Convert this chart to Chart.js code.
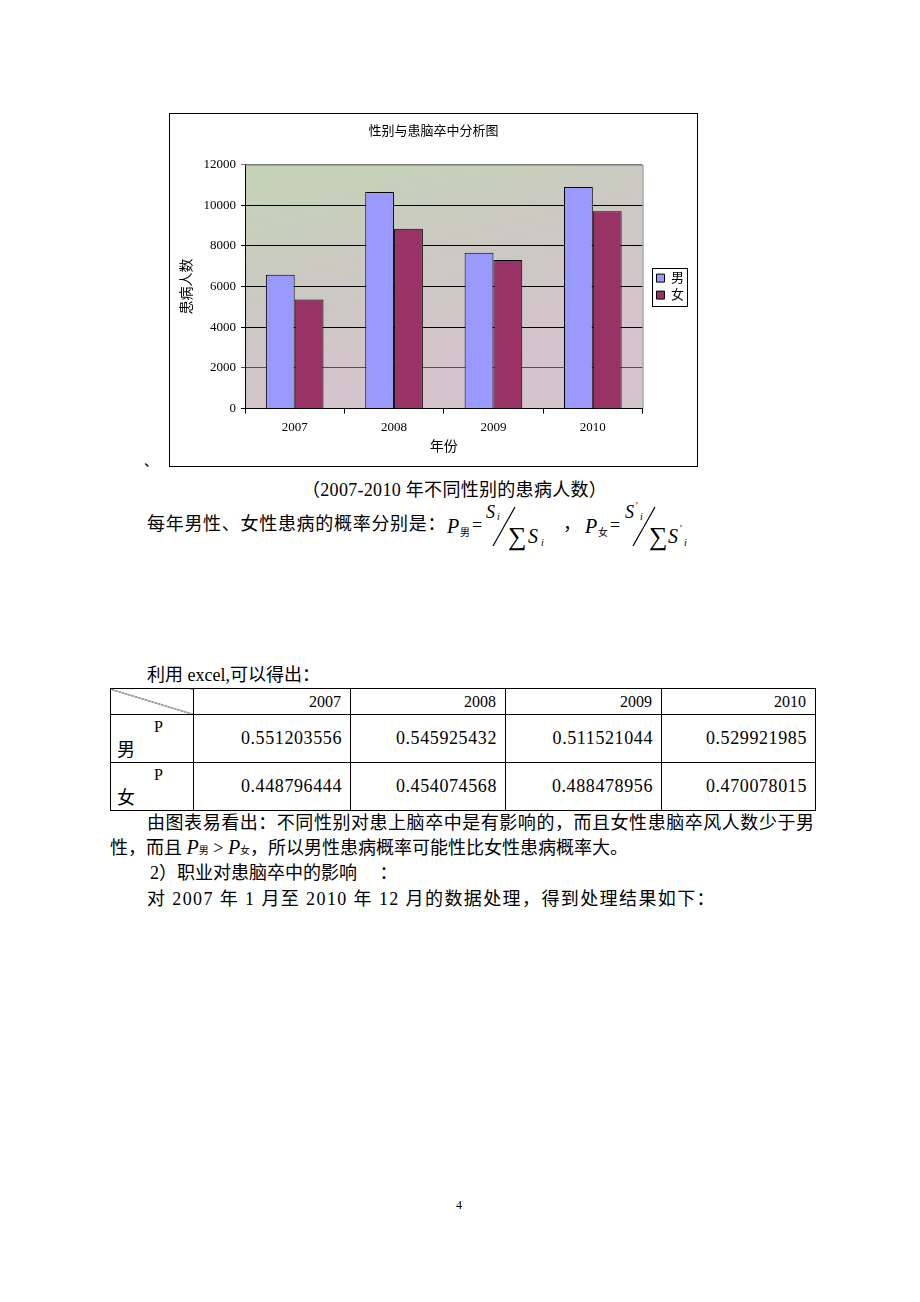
<!DOCTYPE html>
<html>
<head>
<meta charset="utf-8">
<script src="https://cdn.jsdelivr.net/npm/chart.js@4.4.1/dist/chart.umd.min.js"></script>
<style>
  html, body { margin: 0; padding: 0; background: #fff; }
  body {
    width: 920px; height: 1302px; position: relative; overflow: hidden;
    font-family: "Liberation Serif", "Noto Sans CJK SC", serif; color: #000;
  }
  .ln { position: absolute; font-size: 18px; line-height: 26px; white-space: nowrap; }
  .just { white-space: normal; text-align: justify; text-align-last: justify; }
  .m { position: absolute; line-height: 1; white-space: nowrap; }
  .it { font-style: italic; font-family: "Liberation Serif", serif; }
  .sub { font-size: 10px; }
  #chartBox {
    position: absolute; left: 169px; top: 113px; width: 529px; height: 354px;
    border: 1px solid #000; box-sizing: border-box;
  }
  #chartBox canvas { display: block; }
  table {
    position: absolute; left: 110px; top: 688px; border-collapse: collapse;
    table-layout: fixed; width: 705px;
  }
  td { border: 1px solid #000; padding: 0; }
  td.yr { height: 25px; text-align: right; padding-right: 9px; font-size: 16px; }
  td.val { height: 47px; text-align: right; padding-right: 8px; font-size: 18px; letter-spacing: 0.6px; }
  td.diag {
    background: linear-gradient(to top right, transparent calc(50% - 0.6px), #000 50%, transparent calc(50% + 0.6px));
  }
  td.rh { font-size: 18px; }
  td.rh .p { text-align: right; padding-right: 30px; line-height: 22px; font-size: 16px; }
  td.rh .g { text-align: left; padding-left: 6px; line-height: 24px; }
</style>
</head>
<body>

<div id="chartBox"><canvas id="chart" width="527" height="352"></canvas></div>

<div class="ln" style="left:144px; top:449px; font-size:14px;">、</div>
<div class="ln" style="left:302px; top:477px; letter-spacing:0.3px;">（2007-2010 年不同性别的患病人数）</div>

<div class="ln" style="left:147px; top:511px; letter-spacing:0.7px;">每年男性、女性患病的概率分别是：</div>
<!-- formula P_男 = S_i / ΣS_i ，P_女 = S'_i / ΣS'_i -->
<span class="m it" style="left:447px; top:516px; font-size:20px;">P</span>
<span class="m sub" style="left:460px; top:528px;">男</span>
<span class="m" style="left:472px; top:516px; font-size:18px;">=</span>
<span class="m it" style="left:486px; top:503px; font-size:18px;">S</span>
<span class="m it" style="left:497px; top:512px; font-size:10px;">i</span>
<svg style="position:absolute; left:490px; top:505px;" width="30" height="44"><line x1="3" y1="41" x2="25" y2="2" stroke="#000" stroke-width="1.2"/></svg>
<span class="m" style="left:508px; top:524px; font-size:26px;">∑</span>
<span class="m it" style="left:528px; top:526px; font-size:20px;">S</span>
<span class="m it" style="left:541px; top:538px; font-size:10px;">i</span>
<span class="m" style="left:563px; top:515px; font-size:18px;">，</span>
<span class="m it" style="left:585px; top:516px; font-size:20px;">P</span>
<span class="m sub" style="left:598px; top:528px;">女</span>
<span class="m" style="left:610px; top:516px; font-size:18px;">=</span>
<span class="m it" style="left:625px; top:503px; font-size:18px;">S</span>
<span class="m" style="left:636px; top:501px; font-size:10px;">'</span>
<span class="m it" style="left:640px; top:512px; font-size:10px;">i</span>
<svg style="position:absolute; left:630px; top:505px;" width="30" height="44"><line x1="3" y1="41" x2="25" y2="2" stroke="#000" stroke-width="1.2"/></svg>
<span class="m" style="left:649px; top:524px; font-size:26px;">∑</span>
<span class="m it" style="left:668px; top:526px; font-size:20px;">S</span>
<span class="m" style="left:680px; top:524px; font-size:10px;">'</span>
<span class="m it" style="left:684px; top:538px; font-size:10px;">i</span>

<div class="ln" style="left:147px; top:662px;">利用 excel,可以得出：</div>

<table>
  <colgroup><col style="width:83px"><col style="width:157px"><col style="width:155px"><col style="width:156px"><col style="width:154px"></colgroup>
  <tr><td class="diag"></td><td class="yr">2007</td><td class="yr">2008</td><td class="yr">2009</td><td class="yr">2010</td></tr>
  <tr><td class="rh"><div class="p">P</div><div class="g">男</div></td>
    <td class="val">0.551203556</td><td class="val">0.545925432</td><td class="val">0.511521044</td><td class="val">0.529921985</td></tr>
  <tr><td class="rh"><div class="p">P</div><div class="g">女</div></td>
    <td class="val">0.448796444</td><td class="val">0.454074568</td><td class="val">0.488478956</td><td class="val">0.470078015</td></tr>
</table>

<div class="ln just" style="left:147px; top:810px; width:667px;">由图表易看出：不同性别对患上脑卒中是有影响的，而且女性患脑卒风人数少于男</div>
<div class="ln" style="left:110px; top:834px;">性，而且 <span class="it" style="font-size:20px;">P</span><span style="font-size:10px;">男</span> &gt; <span class="it" style="font-size:20px;">P</span><span style="font-size:10px;">女</span>，所以男性患病概率可能性比女性患病概率大。</div>
<div class="ln" style="left:150px; top:860px;">2）职业对患脑卒中的影响　 ：</div>
<div class="ln" style="left:147px; top:886px; letter-spacing:1.4px;">对 2007 年 1 月至 2010 年 12 月的数据处理，得到处理结果如下：</div>

<div class="ln" style="left:456px; top:1192px; font-size:12px;">4</div>

<script>
const years = ['2007', '2008', '2009', '2010'];
const maleCounts = [6580, 10650, 7660, 10900];
const femaleCounts = [5370, 8850, 7310, 9700];
const yMin = 0;
const yMax = 12000;
const yStep = 2000;

const fontFamily = '"Liberation Serif", "Noto Sans CJK SC", serif';
Chart.defaults.color = '#000';
Chart.defaults.font.family = fontFamily;

// plot area fill, grey frame and the boxed legend
const plotFrame = {
  id: 'plotFrame',
  beforeDraw(chart) {
    const { ctx, chartArea: a } = chart;
    const g = ctx.createLinearGradient(a.left, a.top, a.left + 60, a.bottom);
    g.addColorStop(0, '#c4d4b6');
    g.addColorStop(0.5, '#cbc9c2');
    g.addColorStop(1, '#d4c4cc');
    ctx.save();
    ctx.fillStyle = g;
    ctx.fillRect(a.left, a.top, a.right - a.left, a.bottom - a.top);
    ctx.restore();
  },
  afterDraw(chart) {
    const { ctx, chartArea: a } = chart;
    ctx.save();
    ctx.strokeStyle = '#808080';
    ctx.lineWidth = 1;
    ctx.beginPath();
    ctx.moveTo(a.left, a.top + 0.5);
    ctx.lineTo(a.right + 0.5, a.top + 0.5);
    ctx.lineTo(a.right + 0.5, a.bottom);
    ctx.stroke();

    const boxes = chart.legend.legendHitBoxes;
    if (boxes && boxes.length) {
      const l = Math.min(...boxes.map(b => b.left)) - 4;
      const t = Math.min(...boxes.map(b => b.top)) - 4;
      const r = Math.max(...boxes.map(b => b.left + b.width)) + 3;
      const btm = Math.max(...boxes.map(b => b.top + b.height)) + 4;
      ctx.strokeStyle = '#000';
      ctx.strokeRect(Math.round(l) + 0.5, Math.round(t) + 0.5, Math.round(r - l), Math.round(btm - t));
    }
    ctx.restore();
  }
};

new Chart(document.getElementById('chart'), {
  type: 'bar',
  data: {
    labels: years,
    datasets: [
      { label: '男', data: maleCounts, backgroundColor: '#9999ff', borderColor: '#000', borderWidth: 1 },
      { label: '女', data: femaleCounts, backgroundColor: '#993366', borderColor: '#000', borderWidth: 1 }
    ]
  },
  options: {
    responsive: false,
    animation: false,
    devicePixelRatio: 1,
    categoryPercentage: 0.58,
    barPercentage: 1.0,
    layout: { padding: { left: 3, right: 3, top: 0, bottom: 6 } },
    plugins: {
      tooltip: { enabled: false },
      title: {
        display: true,
        text: '性别与患脑卒中分析图',
        font: { size: 13, weight: 'normal', family: fontFamily },
        color: '#000',
        padding: { top: 10, bottom: 25 }
      },
      legend: {
        position: 'right',
        fullSize: false,
        labels: { boxWidth: 8, boxHeight: 8, padding: 4, font: { size: 13, family: fontFamily }, color: '#000' }
      }
    },
    scales: {
      x: {
        grid: { display: true, drawOnChartArea: false, drawTicks: true, tickLength: 5, color: '#000', offset: true },
        border: { color: '#000' },
        ticks: { font: { size: 13, family: fontFamily }, padding: 6, color: '#000' },
        title: { display: true, text: '年份', font: { size: 14, family: fontFamily }, padding: { top: -2, bottom: 4 }, color: '#000' }
      },
      y: {
        min: yMin,
        max: yMax,
        ticks: {
          stepSize: yStep,
          font: { size: 13, family: fontFamily },
          padding: 5,
          color: '#000',
          callback: v => String(v)
        },
        grid: {
          color: ctx => {
            if (!ctx.tick) return '#000';
            if (ctx.tick.value === yMax) return '#808080';
            if (ctx.tick.value === yStep) return '#505050';
            return '#000';
          },
          tickLength: 4
        },
        border: { color: '#000' },
        title: { display: true, text: '患病人数', font: { size: 14, family: fontFamily }, padding: { top: 6, bottom: 8 }, color: '#000' },
        afterFit: s => { s.width = 72; }
      },
      gap: {
        type: 'linear',
        position: 'right',
        display: true,
        grid: { display: false },
        border: { display: false },
        ticks: { display: false },
        afterFit: s => { s.width = 10; }
      }
    }
  },
  plugins: [plotFrame]
});
</script>
</body>
</html>
